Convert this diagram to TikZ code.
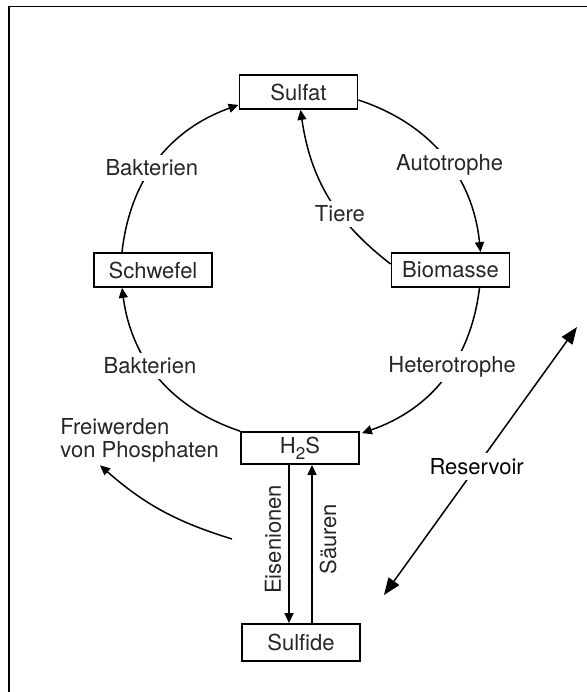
\documentclass[tikz,border=0pt]{standalone}
\usepackage{fontspec}
\setmainfont{TeX Gyre Heros}
\usetikzlibrary{arrows.meta,calc}

\begin{document}
\begin{tikzpicture}[x=0.5pt, y=-0.5pt,
    font=\fontsize{11}{11.5}\selectfont,
    box/.style={draw, line width=0.9pt, minimum width=59pt, minimum height=17pt,
      inner sep=0pt, text=black!85},
    lbl/.style={fill=white, inner sep=2.5pt, text=black!85},
    flow/.style={line width=0.75pt, -{Triangle[length=5pt,width=4.5pt]}},
    resarrow/.style={line width=0.75pt,
      {Triangle[length=8.5pt,width=6.5pt]}-{Triangle[length=8.5pt,width=6.5pt]}}]
      \useasboundingbox (0,0) rectangle (587,692);
      \draw [line width=1.1pt] (9,692) -- (9,6);
      \draw [line width=0.7pt] (8,6.5) -- (587,6.5);

      \node [box] (sulfat)   at (298.5,92)  {Sulfat};
      \node [box] (schwefel) at (153,270)   {Schwefel};
      \node [box] (biomasse) at (450.5,270) {Biomasse};
      \node [box, minimum height=16pt]   (hzs)     at (300,448)
        {H\raisebox{-0.5ex}{\fontsize{8.5}{8.5}\selectfont 2}S};
      \node [box, minimum height=18.5pt] (sulfide) at (301,642.5) {Sulfide};

      \draw [flow] ($(schwefel.north)+(-31,0)$) to [bend left=32]
        node [lbl, pos=0.45] {Bakterien} ($(sulfat.south west)+(0,-5)$);
      \draw [flow] ($(sulfat.east)+(0,8)$) to [bend left=33]
        node [lbl, pos=0.55] {Autotrophe} ($(biomasse.north)+(30,0)$);
      \draw [flow] ($(biomasse.west)+(0,-6)$) to [bend left=22]
        node [lbl, pos=0.38] {Tiere} ($(sulfat.south)+(2,0)$);
      \draw [flow] (hzs.north west) to [bend left=32]
        node [lbl, pos=0.58] {Bakterien} ($(schwefel.south)+(-31,0)$);
      \draw [flow] ($(biomasse.south)+(29,0)$) to [bend left=32]
        node [lbl, pos=0.42] {Heterotrophe} ($(hzs.north east)+(2,2)$);

      \draw [flow] ($(hzs.south)+(-11,0)$) --
        node [pos=0.47, rotate=90, anchor=south, inner sep=3.5pt, text=black!85] {Eisenionen}
        ($(sulfide.north)+(-12,0)$);
      \draw [flow] ($(sulfide.north)+(11,0)$) --
        node [pos=0.53, rotate=90, anchor=north, inner sep=3.5pt, text=black!85] {Säuren}
        ($(hzs.south)+(12,0)$);

      \node [anchor=west, align=left, inner sep=0pt, text=black!85] (phos) at (60,440)
        {Freiwerden\\von Phosphaten};
      \coordinate (phosfrom) at (232,539);
      \draw [flow] (phosfrom) to [bend left=12] ($(phos.south west)+(40,3)$);

      \coordinate (resup)   at (577,327);
      \coordinate (resdown) at (384,595);
      \draw [resarrow] (resdown) -- node [lbl, pos=0.48, text=black] {Reservoir} (resup);
    \end{tikzpicture}
\end{document}
